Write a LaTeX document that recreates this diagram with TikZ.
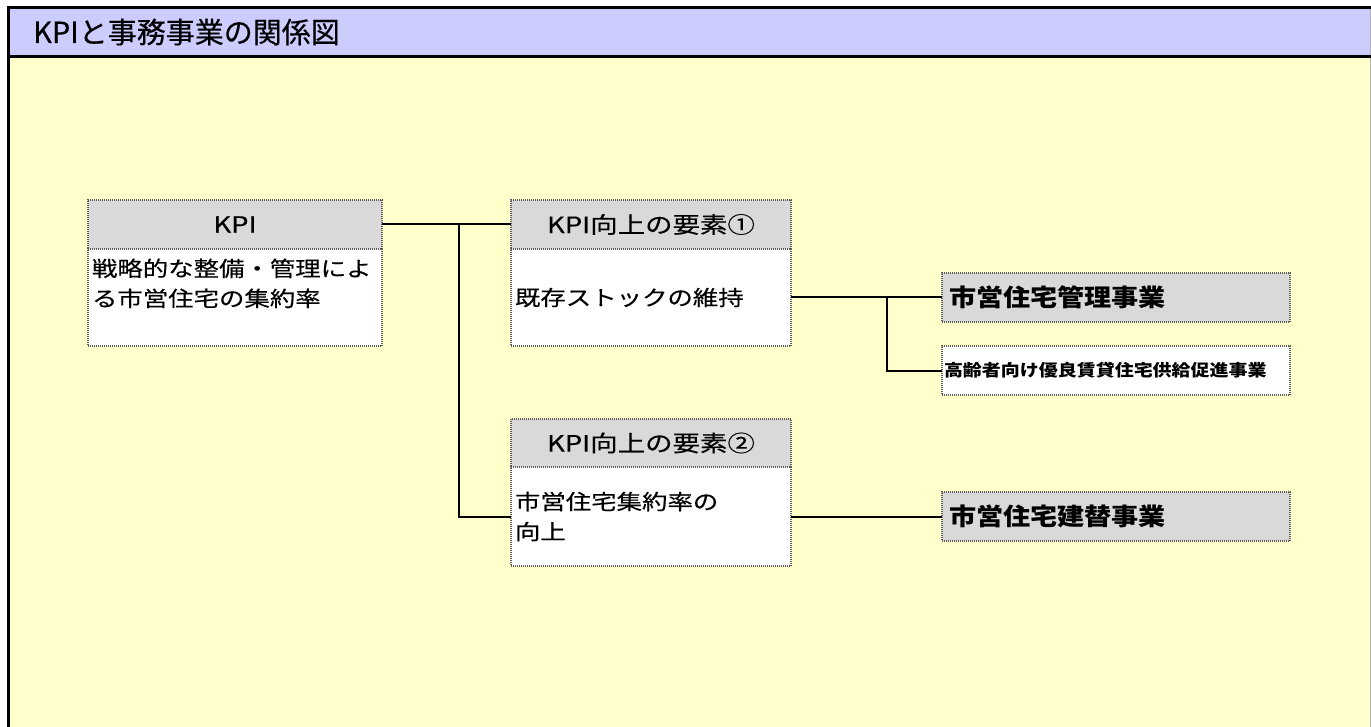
\documentclass[tikz,border=0pt]{standalone}
\usepackage{fontspec}
\newfontfamily\titlef[FakeStretch=1.0, FakeBold=0.4]{Noto Sans CJK JP}
\newfontfamily\jpf[FakeStretch=1.21, FakeBold=0.4]{Noto Sans CJK JP}
\newfontfamily\jphf[FakeStretch=1.22, FakeBold=0.4]{Noto Sans CJK JP}
\newfontfamily\jpbf[FakeStretch=1.13]{Noto Sans CJK JP}
\newfontfamily\jpsf[FakeStretch=1.15]{Noto Sans CJK JP}
\definecolor{lavbg}{HTML}{CCCCFF}
\definecolor{yelbg}{HTML}{FFFFCC}
\definecolor{hdrgray}{HTML}{D9D9D9}
\definecolor{dotgray}{HTML}{5A5A5A}
\tikzset{
  boxline/.style={draw=dotgray, line width=1.1pt, dash pattern=on 1pt off 1pt},
  hdrbox/.style={boxline, fill=hdrgray, inner sep=0pt, outer sep=0pt,
    minimum height=49pt, align=center, font=\jphf\fontsize{22.5}{28}\selectfont},
  bodybox/.style={boxline, fill=white, inner sep=0pt, outer sep=0pt,
    align=left, font=\jpf\fontsize{21}{30}\selectfont},
  projbig/.style={boxline, fill=hdrgray, inner sep=0pt, outer sep=0pt,
    minimum width=348pt, minimum height=49pt, text width=334pt, align=left,
    font=\jpbf\bfseries\fontsize{24}{28}\selectfont},
  projsmall/.style={boxline, fill=white, inner sep=0pt, outer sep=0pt,
    minimum width=348pt, minimum height=49pt, text width=344pt, align=left,
    font=\jpsf\bfseries\fontsize{16.5}{20}\selectfont},
  conn/.style={draw=black, line width=2pt},
}
\begin{document}
\begin{tikzpicture}[x=1pt,y=-1pt]
\useasboundingbox (0,0) rectangle (1371,727);
% background frame
\fill[white] (0,0) rectangle (1371,727);
\fill[yelbg] (8,56) rectangle (1371,727);
\fill[lavbg] (8,8) rectangle (1371,56);
\draw[gray!60, line width=1pt] (1370.5,9) -- (1370.5,727);
\draw[black, line width=3pt] (7.3,7.5) -- (1371,7.5);
\draw[black, line width=3pt] (7.3,56.5) -- (1371,56.5);
\draw[black, line width=2.8pt] (8.7,6) -- (8.7,727);
\node[anchor=west, inner sep=0pt, font=\titlef\fontsize{29}{34}\selectfont] (title) at (33,32) {KPIと事務事業の関係図};

% KPI box
\node[hdrbox, minimum width=294pt] (kpih) at (235,224.5) {KPI};
\node[bodybox, minimum width=294pt, minimum height=97pt, text width=286pt] (kpib) at (235,297.5)
  {戦略的な整備・管理によ\\る市営住宅の集約率\\\mbox{}};

% element 1
\node[hdrbox, minimum width=280pt] (e1h) at (651,224.5) {KPI向上の要素①};
\node[bodybox, minimum width=280pt, minimum height=97pt, text width=272pt] (e1b) at (651,297.5)
  {既存ストックの維持};

% element 2
\node[hdrbox, minimum width=280pt, minimum height=48pt] (e2h) at (651,443) {KPI向上の要素②};
\node[bodybox, minimum width=280pt, minimum height=99pt, text width=272pt] (e2b) at (651,516.5)
  {市営住宅集約率の\\向上};

% projects
\node[projbig] (p1) at (1116,297.5) {市営住宅管理事業};
\node[projsmall] (p2) at (1116,370.5) {高齢者向け優良賃貸住宅供給促進事業};
\node[projbig] (p3) at (1116,516.5) {市営住宅建替事業};

% connectors
\coordinate (j1) at (459,224.5);
\coordinate (j2) at (887,297.5);
\draw[conn] (kpih.east) -- (e1h.west);
\draw[conn] (j1) |- (e2b.west);
\draw[conn] (e1b.east) -- (p1.west);
\draw[conn] (j2) |- (p2.west);
\draw[conn] (e2b.east) -- (p3.west);
\end{tikzpicture}
\end{document}
